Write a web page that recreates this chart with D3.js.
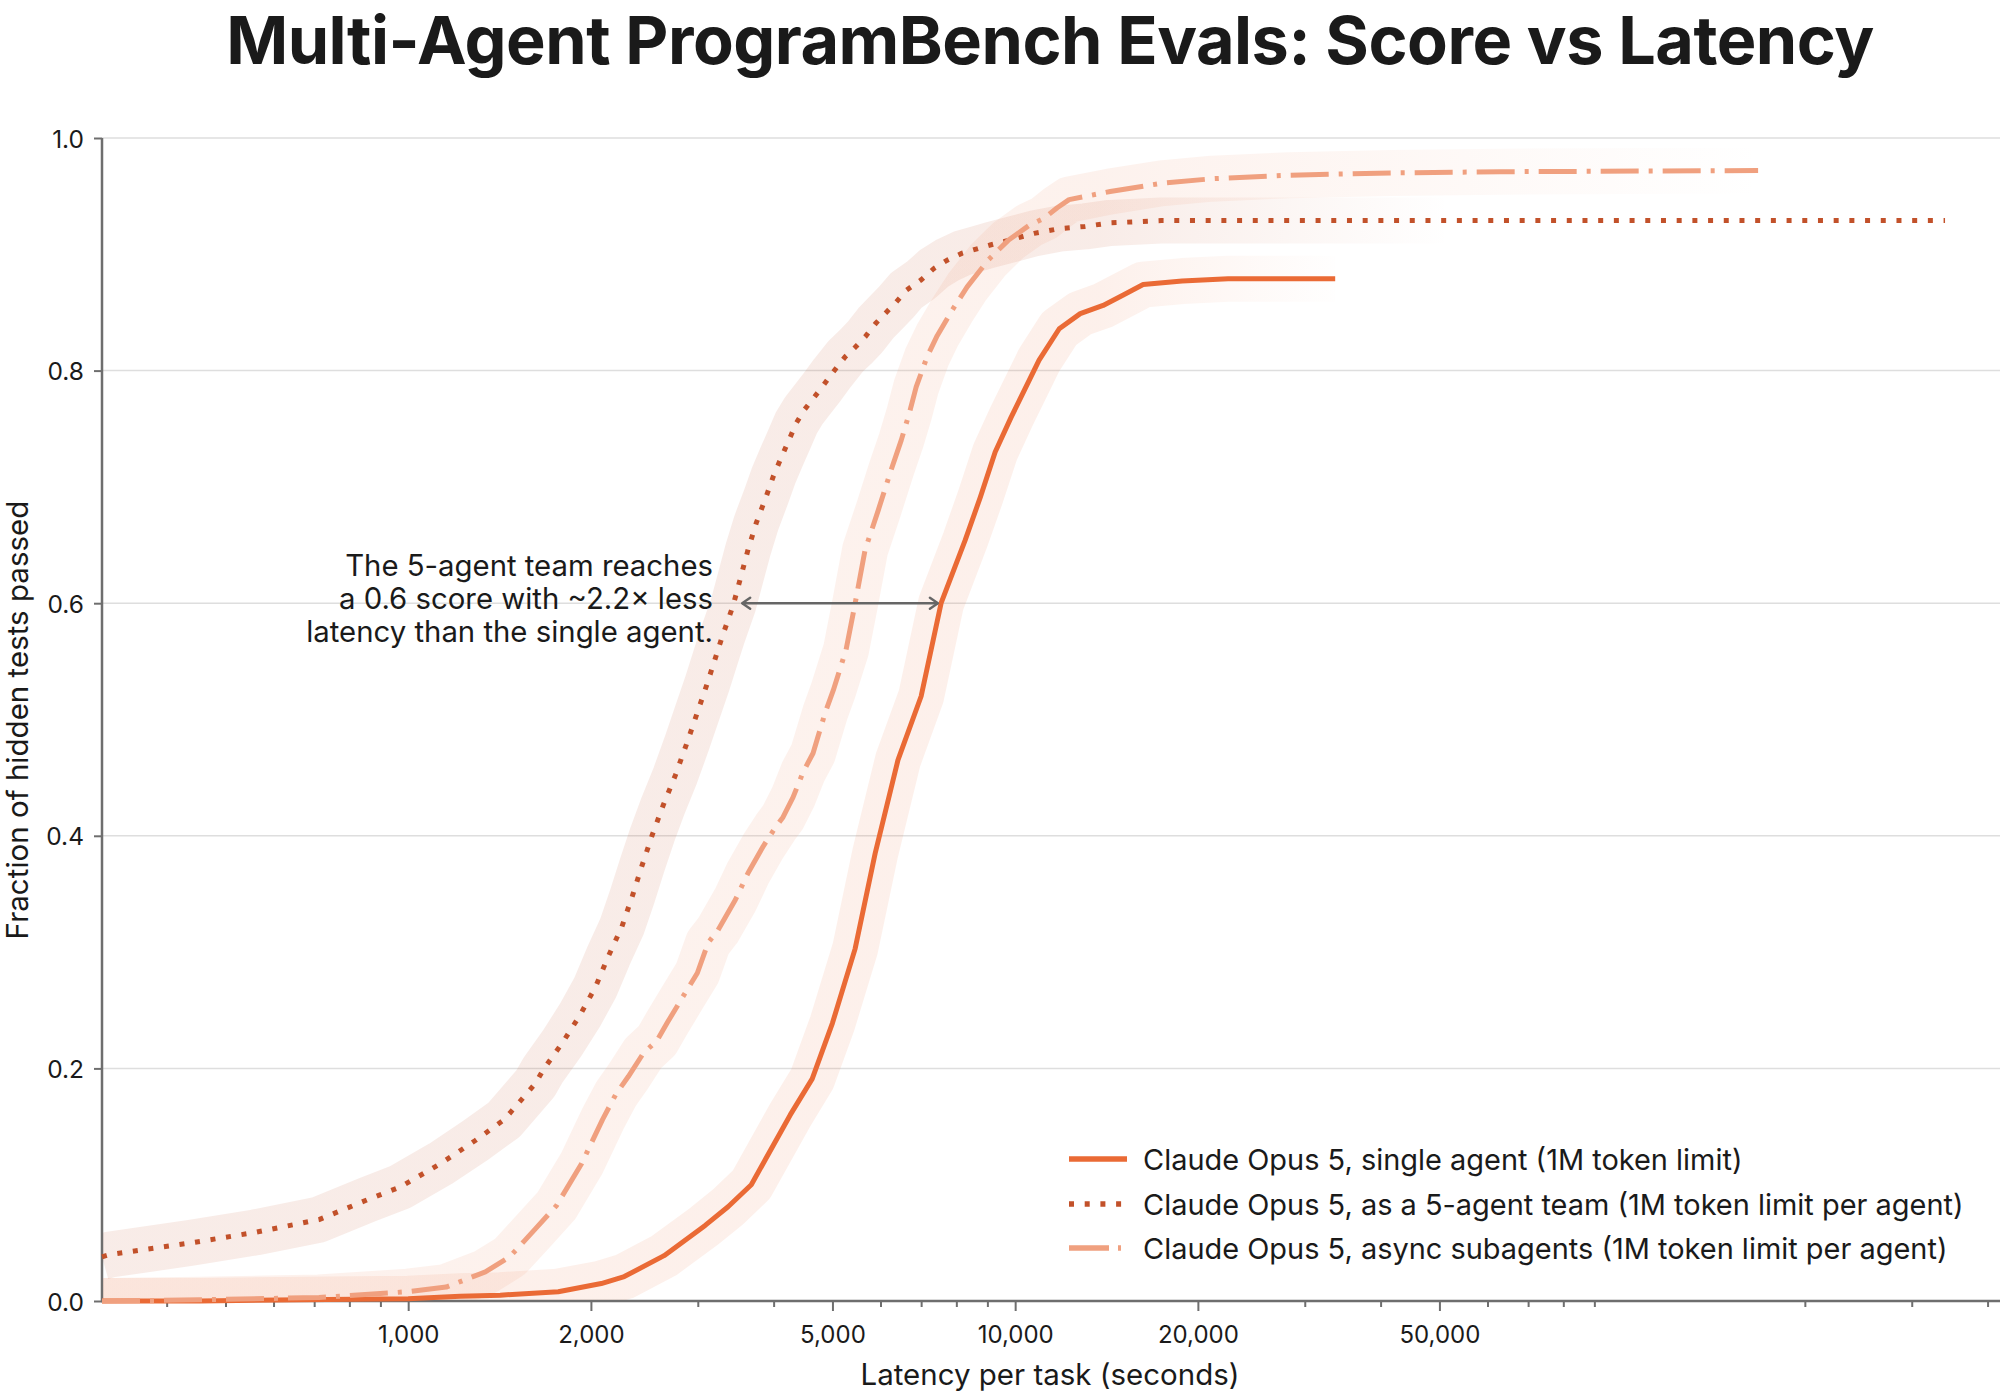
<!DOCTYPE html>
<html><head><meta charset="utf-8">
<script src="https://cdn.jsdelivr.net/npm/d3@7"></script>
<style>
body{margin:0;background:#fff}
svg{display:block}
text{font-family:Inter,"Noto Sans","Liberation Sans",sans-serif;fill:#1a1a1a}
</style>
</head><body>
<svg id="chart" width="2000" height="1400"></svg>
<script>
// ---------------- DATA ----------------
const seriesNames = [
  "Claude Opus 5, single agent (1M token limit)",
  "Claude Opus 5, as a 5-agent team (1M token limit per agent)",
  "Claude Opus 5, async subagents (1M token limit per agent)"
];
const singleLatency = [313,454,664,1000,1218,1418,1767,2080,2270,2640,3085,3365,3675,4260,4630,5000,5450,5880,6410,7000,7270,7550,8270,8760,9270,9850,10950,11820,12800,13960,15070,16250,18840,22430,33670];
const singleScore   = [0.000,0.000,0.001,0.002,0.004,0.005,0.008,0.015,0.021,0.039,0.065,0.081,0.100,0.160,0.191,0.239,0.303,0.385,0.465,0.520,0.560,0.600,0.654,0.691,0.730,0.760,0.809,0.836,0.849,0.856,0.865,0.874,0.877,0.879,0.879];

const teamLatency = [313,323,439,560,713,856,970,1130,1290,1440,1620,1670,1795,1920,2035,2135,2250,2340,2430,2525,2630,2755,2880,2995,3110,3230,3290,3430,3500,3630,3745,3890,3995,4115,4245,4360,4490,4665,4810,5000,5250,5450,5660,5900,6130,6370,6615,7000,7355,7730,8180,8690,9095,9740,10750,11820,13040,14340,17400,25620,340400];
const teamScore   = [0.038,0.040,0.050,0.059,0.070,0.087,0.098,0.118,0.138,0.156,0.187,0.199,0.222,0.246,0.270,0.296,0.322,0.348,0.375,0.401,0.426,0.452,0.480,0.506,0.531,0.558,0.571,0.598,0.615,0.646,0.669,0.692,0.709,0.725,0.741,0.755,0.766,0.777,0.786,0.798,0.812,0.820,0.829,0.841,0.850,0.859,0.869,0.878,0.888,0.895,0.901,0.905,0.908,0.912,0.918,0.922,0.924,0.927,0.929,0.929,0.929];

const asyncLatency = [313,454,713,1000,1155,1340,1470,1620,1755,1930,2090,2200,2305,2440,2570,2670,2830,2995,3120,3240,3460,3630,3845,4025,4145,4305,4475,4645,4865,5015,5265,5450,5660,5950,6250,6490,6690,6870,7160,7440,7875,8335,9025,9740,10550,11160,11730,12270,14340,17400,21110,28280,41640,62950,167500];
const asyncScore   = [0.000,0.001,0.003,0.008,0.012,0.025,0.038,0.062,0.082,0.118,0.156,0.178,0.193,0.213,0.224,0.239,0.261,0.282,0.308,0.319,0.345,0.368,0.391,0.407,0.416,0.433,0.455,0.471,0.506,0.525,0.560,0.600,0.646,0.680,0.715,0.740,0.763,0.786,0.812,0.830,0.852,0.872,0.895,0.912,0.925,0.931,0.940,0.947,0.954,0.961,0.965,0.968,0.970,0.971,0.972];

const xMajorTicks = [1000,2000,5000,10000,20000,50000];
const xMinorTicks = [400,500,600,700,800,900,3000,4000,6000,7000,8000,9000,30000,40000,60000,70000,80000,90000,200000,300000,400000];
const yTicks = [0,0.2,0.4,0.6,0.8,1.0];
const annotationLines = ["The 5-agent team reaches","a 0.6 score with ~2.2\u00d7 less","latency than the single agent."];
const arrowScore = 0.6, arrowFrom = 3550, arrowTo = 7460;

// ---------------- STYLE / LAYOUT ----------------
const colors = ["#EA6A35","#C2512A","#F0A07F"];
const bandOpacity = [0.1,0.11,0.14];
const dashes = [null,"5,10.7","38,10,4,10"];
const fadeStart = [1100,1100,1100], fadeEnd = [1345,1450,1760];

const svg = d3.select("#chart");
const L = 102, R = 1996, T = 138, B = 1301;
const x = d3.scaleLog().domain([313, 413000]).range([L, R]);
const y = d3.scaleLinear().domain([0, 1]).range([B, T]);

function fit(sel, target){
  const len = sel.node().getComputedTextLength();
  const fs = parseFloat(sel.attr("font-size"));
  sel.attr("font-size", fs * target / len);
  return fs * target / len;
}

// title
const title = svg.append("text").attr("x",1050).attr("y",64).attr("text-anchor","middle")
  .attr("font-size",70).attr("font-weight",700).attr("letter-spacing","-0.5")
  .text("Multi-Agent ProgramBench Evals: Score vs Latency");
fit(title, 1649);

// grid
svg.append("g").selectAll("line").data(yTicks.filter(d=>d>0)).join("line")
  .attr("x1",L).attr("x2",2000).attr("y1",d=>y(d)).attr("y2",d=>y(d))
  .attr("stroke","#dedede").attr("stroke-width",1.5);

// axes
const axisColor = "#6e6e6e";
const gxMinor = svg.append("g").attr("transform",`translate(0,${B})`)
  .call(d3.axisBottom(x).tickValues(xMinorTicks).tickSize(6).tickFormat(""));
const gxMajor = svg.append("g").attr("transform",`translate(0,${B})`)
  .call(d3.axisBottom(x).tickValues(xMajorTicks).tickSize(10).tickFormat(d3.format(",")));
[gxMinor,gxMajor].forEach(g=>{
  g.select(".domain").remove();
  g.selectAll(".tick line").attr("stroke",axisColor).attr("stroke-width",2);
});
gxMajor.selectAll(".tick text").attr("y",33).attr("dy",null).attr("dominant-baseline","central")
  .attr("font-size",24).attr("fill","#1a1a1a").style("font-family","Inter, sans-serif");

const gy = svg.append("g").attr("transform",`translate(${L},0)`)
  .call(d3.axisLeft(y).tickValues(yTicks).tickSize(8).tickFormat(d3.format(".1f")));
gy.select(".domain").remove();
gy.selectAll(".tick line").attr("stroke",axisColor).attr("stroke-width",2);
gy.selectAll(".tick text").attr("x",-18).attr("dy",null).attr("dominant-baseline","central")
  .attr("font-size",24.5).attr("fill","#1a1a1a").style("font-family","Inter, sans-serif");

svg.append("line").attr("x1",L).attr("x2",L).attr("y1",T).attr("y2",B+1)
  .attr("stroke",axisColor).attr("stroke-width",2.5);
svg.append("line").attr("x1",L-1).attr("x2",2000).attr("y1",B).attr("y2",B)
  .attr("stroke",axisColor).attr("stroke-width",2.5);

// axis labels
const xl = svg.append("text").attr("x",1050).attr("y",1374).attr("text-anchor","middle")
  .attr("dominant-baseline","central").attr("font-size",26).text("Latency per task (seconds)");
fit(xl, 379);
const yl = svg.append("text").attr("transform","translate(17,720) rotate(-90)").attr("text-anchor","middle")
  .attr("dominant-baseline","central").attr("font-size",26).text("Fraction of hidden tests passed");
fit(yl, 439);

// series
const series = [
  d3.zip(singleLatency, singleScore),
  d3.zip(teamLatency, teamScore),
  d3.zip(asyncLatency, asyncScore)
];
const line = d3.line().x(d=>x(d[0])).y(d=>y(d[1]));

const defs = svg.append("defs");
defs.append("clipPath").attr("id","plotclip").append("rect")
  .attr("x",L+1).attr("y",T-30).attr("width",2000-L).attr("height",B-T+29);
series.forEach((s,i)=>{
  const g = defs.append("linearGradient").attr("id","fade"+i)
    .attr("gradientUnits","userSpaceOnUse").attr("x1",fadeStart[i]).attr("x2",fadeEnd[i]).attr("y1",0).attr("y2",0);
  g.append("stop").attr("offset",0).attr("stop-color",colors[i]).attr("stop-opacity",bandOpacity[i]);
  g.append("stop").attr("offset",1).attr("stop-color",colors[i]).attr("stop-opacity",0);
});

const bands = svg.append("g").attr("clip-path","url(#plotclip)");
series.forEach((s,i)=>{
  bands.append("path").attr("d",line(s)).attr("fill","none")
    .attr("stroke",`url(#fade${i})`).attr("stroke-width",46)
    .attr("stroke-linejoin","round").attr("stroke-linecap","butt");
});

const lines = svg.append("g");
series.forEach((s,i)=>{
  lines.append("path").attr("d",line(s)).attr("fill","none")
    .attr("stroke",colors[i]).attr("stroke-width",5)
    .attr("stroke-dasharray",dashes[i])
    .attr("stroke-linejoin","round").attr("stroke-linecap","butt");
});

// annotation
const ann = svg.append("g");
annotationLines.forEach((t,k)=>{
  ann.append("text").attr("x",713).attr("y",576+k*33).attr("text-anchor","end")
    .attr("font-size",27).text(t);
});
const af = fit(ann.select("text:last-child"), 407);
ann.selectAll("text").attr("font-size",af);

defs.append("marker").attr("id","arrowhead").attr("viewBox","-10 -7 12 14")
  .attr("refX",0).attr("refY",0).attr("markerWidth",12).attr("markerHeight",14)
  .attr("markerUnits","userSpaceOnUse").attr("orient","auto-start-reverse")
  .append("path").attr("d","M-8,-5.5 L0,0 L-8,5.5").attr("fill","none")
  .attr("stroke","#666").attr("stroke-width",2.4).attr("stroke-linecap","round").attr("stroke-linejoin","round");
svg.append("line").attr("x1",x(arrowFrom)).attr("x2",x(arrowTo))
  .attr("y1",y(arrowScore)).attr("y2",y(arrowScore))
  .attr("stroke","#666").attr("stroke-width",2.4)
  .attr("marker-start","url(#arrowhead)").attr("marker-end","url(#arrowhead)");

// legend
const legendDash = [null,"5,10.7","40,9,3,40"];
const lg = svg.append("g");
const legY = [1159,1204,1248];
const legTexts = [];
seriesNames.forEach((n,i)=>{
  lg.append("line").attr("x1",1069).attr("x2",1127).attr("y1",legY[i]).attr("y2",legY[i])
    .attr("stroke",colors[i]).attr("stroke-width",5.5).attr("stroke-dasharray",legendDash[i]);
  legTexts.push(lg.append("text").attr("x",1143).attr("y",legY[i]).attr("dominant-baseline","central")
    .attr("font-size",27).text(n));
});
const lf = fit(legTexts[1], 821);
legTexts.forEach(t=>t.attr("font-size",lf));
</script>
</body></html>
